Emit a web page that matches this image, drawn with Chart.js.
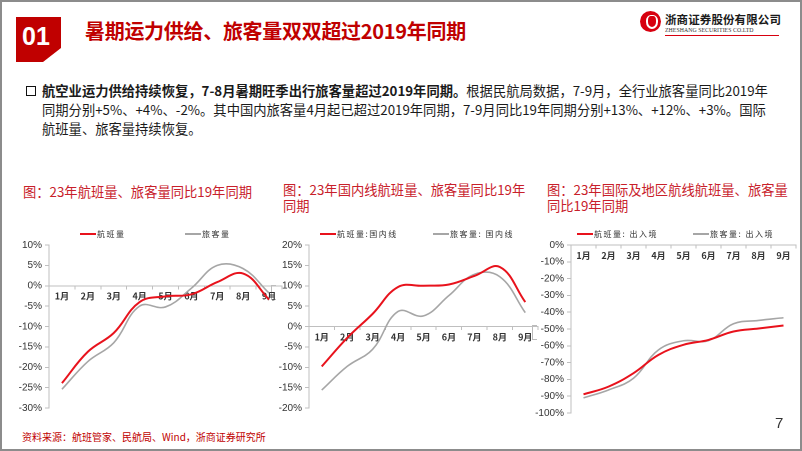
<!DOCTYPE html>
<html><head><meta charset="utf-8">
<script src="https://cdn.jsdelivr.net/npm/chart.js@4"></script>
<style>
html,body{margin:0;padding:0;background:#fff;}
body{width:802px;height:451px;position:relative;overflow:hidden;font-family:"Noto Sans CJK SC","Noto Sans",sans-serif;}
#frame{position:absolute;left:0;top:0;width:798px;height:447px;border:2px solid #8c8c8c;border-right-width:2px;}
.abs{position:absolute;white-space:nowrap;}
#box{left:16px;top:17px;width:45px;height:45px;background:#c00000;clip-path:polygon(0 0,100% 0,100% 69%,60% 100%,0 100%);}
#box span{position:absolute;left:0;width:40px;top:5px;text-align:center;color:#fff;font:bold 25px "Liberation Sans",Arial,sans-serif;}
#title{left:85px;top:17px;font-size:20px;font-weight:bold;color:#c00000;line-height:28px;letter-spacing:-0.3px;}
#logoC{left:640px;top:11px;width:21px;height:21px;border-radius:50%;background:#d7000f;}
#logoC i{position:absolute;left:6px;top:4px;width:8px;height:11px;border:2px solid #fff;border-radius:40% 40% 50% 50%;border-top-width:1px;}
#logoT{left:665px;top:12px;font-size:11.5px;font-weight:bold;color:#1a1a1a;line-height:14px;letter-spacing:0.1px;}
#logoE{left:665px;top:27px;font:5.8px "Liberation Serif",serif;color:#333;line-height:7px;letter-spacing:0.05px;}
#logoL{left:665px;top:35px;width:114px;height:1px;background:#d7000f;}
#bul{left:26px;top:86px;width:8px;height:8px;border:1.5px solid #111;}
#body{left:42px;top:81px;font-size:13.3px;line-height:19px;color:#1a1a1a;}
#body b{font-weight:bold;}
.ct{font-size:13.3px;color:#c8202a;line-height:16px;}
#src{left:22px;top:429px;font-size:10px;color:#c00000;}
#pg{left:775px;top:414px;font:15px "Liberation Sans",Arial,sans-serif;color:#333;}
canvas{position:absolute;}
.brk{position:absolute;width:4px;height:13px;border:1px solid #bbb;border-right:none;}
</style></head>
<body>
<div id="frame"></div>
<div id="box" class="abs"><span>01</span></div>
<div id="title" class="abs">暑期运力供给、旅客量双双超过2019年同期</div>
<div id="logoC" class="abs"><i></i></div>
<div id="logoT" class="abs">浙商证券股份有限公司</div>
<div id="logoE" class="abs">ZHESHANG SECURITIES CO.LTD</div>
<div id="logoL" class="abs"></div>
<div id="bul" class="abs"></div>
<div id="body" class="abs"><b>航空业运力供给持续恢复，7-8月暑期旺季出行旅客量超过2019年同期。</b>根据民航局数据，7-9月，全行业旅客量同比2019年<br>同期分别+5%、+4%、-2%。其中国内旅客量4月起已超过2019年同期，7-9月同比19年同期分别+13%、+12%、+3%。国际<br>航班量、旅客量持续恢复。</div>
<div class="abs ct" style="left:23px;top:184px;">图：23年航班量、旅客量同比19年同期</div>
<div class="abs ct" style="left:283px;top:182px;">图：23年国内线航班量、旅客量同比19年<br>同期</div>
<div class="abs ct" style="left:547px;top:182px;">图：23年国际及地区航线航班量、旅客量<br>同比19年同期</div>
<div class="brk" style="left:271px;top:285px;"></div>
<div class="brk" style="left:532px;top:325px;"></div>
<canvas id="c1" style="left:8px;top:220px;width:278px;height:200px;"></canvas>
<canvas id="c2" style="left:268px;top:220px;width:274px;height:200px;"></canvas>
<canvas id="c3" style="left:530px;top:220px;width:270px;height:205px;"></canvas>
<div id="src" class="abs">资料来源：航班管家、民航局、Wind，浙商证券研究所</div>
<div id="pg" class="abs">7</div>
<script>
const months = ['1月','2月','3月','4月','5月','6月','7月','8月','9月'];

// Chart 1: all routes
const allFlightsLabel = '航班量';
const allPassengersLabel = '旅客量';
const allFlights = [-23.9, -16.2, -11.6, -4.0, -2.6, -2.1, 0.9, 3.0, -3.4];
const allPassengers = [-25.4, -18.6, -14.0, -5.0, -5.2, -0.6, 5.0, 4.2, -1.8];
const ticks1 = {min: -30, max: 10, step: 5};

// Chart 2: domestic
const domFlightsLabel = '航班量:国内线';
const domPassengersLabel = '旅客量: 国内线';
const domFlights = [-9.8, -2.8, 3.1, 9.7, 10.0, 10.3, 12.4, 14.6, 6.0];
const domPassengers = [-15.6, -9.8, -5.6, 3.7, 2.6, 7.6, 12.8, 12.2, 3.4];
const ticks2 = {min: -20, max: 20, step: 5};

// Chart 3: international & regional
const intFlightsLabel = '航班量: 出入境';
const intPassengersLabel = '旅客量: 出入境';
const intFlights = [-88.9, -84.3, -76.3, -65.4, -59.4, -56.5, -51.5, -49.7, -47.9];
const intPassengers = [-91.0, -86.3, -79.3, -62.4, -57.0, -56.9, -46.9, -44.9, -43.3];
const ticks3 = {min: -100, max: 0, step: 10};

const RED = '#e8121c', GRAY = '#a6a6a6', AXIS = '#bfbfbf';

const lineLegend = {
  id: 'lineLegend',
  afterDraw(chart, args, opts) {
    const ctx = chart.ctx, ca = chart.chartArea;
    ctx.save();
    chart.data.datasets.forEach((ds, i) => {
      const x = ca.left + opts.offsets[i];
      const y = ca.top - 11;
      ctx.strokeStyle = ds.borderColor;
      ctx.lineWidth = 2;
      ctx.beginPath(); ctx.moveTo(x, y); ctx.lineTo(x + opts.len, y); ctx.stroke();
      ctx.fillStyle = '#333';
      ctx.font = '8px "Noto Sans CJK SC", sans-serif';
      ctx.letterSpacing = '1.5px';
      ctx.textBaseline = 'middle';
      ctx.fillText(ds.label, x + opts.len + 1, y);
    });
    ctx.restore();
  }
};

function makeChart(id, labels, names, values, t, offsets) {
  return new Chart(document.getElementById(id), {
    type: 'line',
    data: {
      labels: labels,
      datasets: [
        {label: names[0], data: values[0], borderColor: RED, borderWidth: 2, pointRadius: 0, tension: 0.4, fill: false},
        {label: names[1], data: values[1], borderColor: GRAY, borderWidth: 1.6, pointRadius: 0, tension: 0.4, fill: false}
      ]
    },
    options: {
      responsive: false,
      animation: false,
      devicePixelRatio: 2,
      layout: {padding: {top: 25, right: 4, bottom: 12, left: 0}},
      plugins: {legend: {display: false}, tooltip: {enabled: false}, lineLegend: {offsets: offsets, len: 16}},
      scales: {
        x: {
          type: 'category',
          position: {y: 0},
          offset: true,
          grid: {display: true, offset: true, drawOnChartArea: false, drawTicks: true, tickLength: 3, color: AXIS},
          border: {display: true, color: AXIS, width: 1},
          ticks: {color: '#333', font: {size: 9, family: '"Noto Sans CJK SC", sans-serif', weight: 'bold'}, padding: 2, maxRotation: 0, autoSkip: false}
        },
        y: {
          min: t.min, max: t.max,
          afterFit: s => { s.width = 41; },
          grid: {display: true, drawOnChartArea: false, drawTicks: true, tickLength: 4, color: AXIS},
          border: {display: true, color: AXIS, width: 1},
          ticks: {stepSize: t.step, color: '#333', padding: 3, font: {size: 10, family: '"Liberation Sans", Arial, sans-serif'}, callback: v => v + '%'}
        }
      }
    },
    plugins: [lineLegend]
  });
}

function sizeCanvas(id, w, h) { const c = document.getElementById(id); c.width = w; c.height = h; c.style.width = w + 'px'; c.style.height = h + 'px'; }
sizeCanvas('c1', 278, 200); sizeCanvas('c2', 274, 200); sizeCanvas('c3', 270, 205);

makeChart('c1', months, [allFlightsLabel, allPassengersLabel], [allFlights, allPassengers], ticks1, [31, 136]);
makeChart('c2', months, [domFlightsLabel, domPassengersLabel], [domFlights, domPassengers], ticks2, [11, 124]);
makeChart('c3', months, [intFlightsLabel, intPassengersLabel], [intFlights, intPassengers], ticks3, [6, 122]);
</script>
</body></html>
